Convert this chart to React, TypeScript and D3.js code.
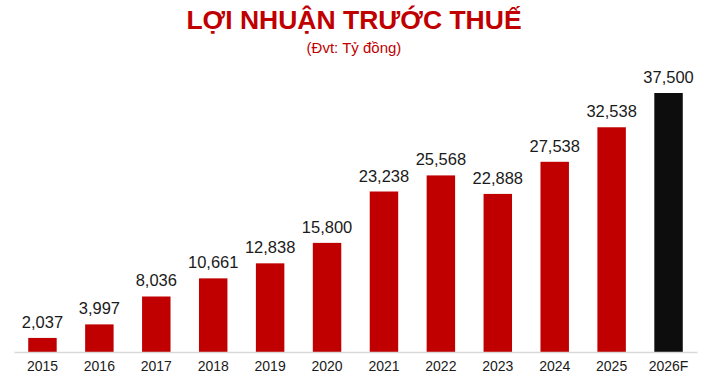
import { useEffect, useRef } from "react";
import * as d3 from "d3";

const years = ["2015", "2016", "2017", "2018", "2019", "2020", "2021", "2022", "2023", "2024", "2025", "2026F"];
const profits = [2037, 3997, 8036, 10661, 12838, 15800, 23238, 25568, 22888, 27538, 32538, 37500];
const forecastYears = ["2026F"];

const W = 718;
const H = 386;

const App = () => {
  const ref = useRef<SVGSVGElement>(null);

  useEffect(() => {
    const svg = d3.select(ref.current);
    svg.selectAll("*").remove();

    const margin = { top: 93, right: 21, bottom: 34, left: 14 };

    const x = d3.scaleBand().domain(years).range([margin.left, W - margin.right]).paddingInner(0.5).paddingOuter(0.25);
    const y = d3.scaleLinear().domain([0, 37500]).range([H - margin.bottom, margin.top]);

    const font = "'Liberation Sans', Arial, sans-serif";

    svg.append("text")
      .attr("x", 354).attr("y", 29)
      .attr("text-anchor", "middle")
      .attr("font-family", font).attr("font-weight", "bold").attr("font-size", 26.5)
      .attr("fill", "#c00000")
      .text("LỢI NHUẬN TRƯỚC THUẾ");

    svg.append("text")
      .attr("x", 354).attr("y", 53)
      .attr("text-anchor", "middle")
      .attr("font-family", font).attr("font-size", 15)
      .attr("fill", "#c00000")
      .text("(Đvt: Tỷ đồng)");

    const data = years.map((yr, i) => ({ yr, v: profits[i] }));

    svg.append("g").selectAll("rect").data(data).join("rect")
      .attr("x", (d) => x(d.yr)!)
      .attr("y", (d) => y(d.v))
      .attr("width", x.bandwidth())
      .attr("height", (d) => y(0) - y(d.v))
      .attr("fill", (d) => (forecastYears.includes(d.yr) ? "#0d0d0d" : "#c00000"));

    svg.append("g").selectAll("text").data(data).join("text")
      .attr("x", (d) => x(d.yr)! + x.bandwidth() / 2)
      .attr("y", (d) => y(d.v) - 10)
      .attr("text-anchor", "middle")
      .attr("font-family", font).attr("font-size", 16.5)
      .attr("fill", "#1a1a1a")
      .text((d) => d3.format(",")(d.v));

    const axis = svg.append("g").attr("transform", `translate(0,${y(0)})`)
      .call(d3.axisBottom(x).tickSize(0).tickPadding(9).tickSizeOuter(0));
    axis.select(".domain").attr("stroke", "#d9d9d9").attr("stroke-width", 1.5);
    axis.selectAll("text")
      .attr("font-family", font).attr("font-size", 14)
      .attr("fill", "#1a1a1a").attr("dy", "0.71em");
  }, []);

  return <svg ref={ref} width={W} height={H} style={{ position: "absolute", left: 0, top: 0 }} />;
};

export default App;
